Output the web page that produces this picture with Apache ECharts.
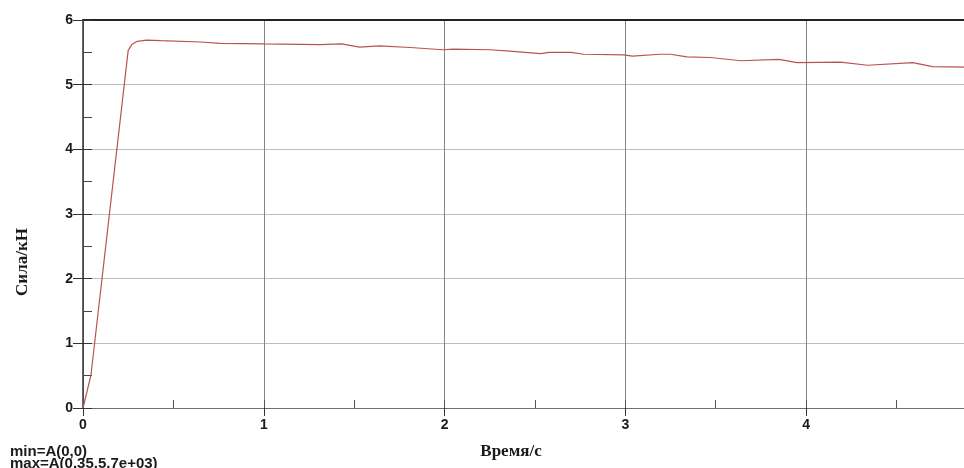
<!DOCTYPE html>
<html>
<head>
<meta charset="utf-8">
<script src="https://cdn.jsdelivr.net/npm/echarts@6/dist/echarts.min.js"></script>
<style>
  html, body { margin: 0; padding: 0; background: #fff; }
  #chart { width: 964px; height: 468px; }
</style>
</head>
<body>
<div id="chart"></div>
<script>
// время, с
var timeValues = [0, 0.044, 0.25, 0.27, 0.30, 0.35, 0.43, 0.65, 0.76, 1.00, 1.31, 1.43, 1.53, 1.64, 1.81, 1.99,
  2.05, 2.25, 2.36, 2.53, 2.58, 2.70, 2.77, 2.99, 3.04, 3.19, 3.25, 3.34, 3.47, 3.64, 3.85, 3.95, 4.19,
  4.34, 4.59, 4.70, 4.88];
// сила, кН
var forceValues = [0, 0.51, 5.53, 5.62, 5.67, 5.69, 5.68, 5.66, 5.64, 5.63, 5.62, 5.63, 5.58, 5.60, 5.575, 5.54,
  5.55, 5.54, 5.52, 5.48, 5.50, 5.50, 5.47, 5.46, 5.44, 5.47, 5.47, 5.43, 5.42, 5.37, 5.39, 5.34, 5.35,
  5.30, 5.34, 5.28, 5.27];
var statLines = ['min=A(0,0)', 'max=A(0.35,5.7e+03)'];
var xName = 'Время/с';
var yName = 'Сила/кН';

var points = timeValues.map(function (t, i) { return [t, forceValues[i]]; });

var labelFont = { color: '#1a1a1a', fontSize: 14, fontWeight: 'bold', fontFamily: 'Liberation Sans, Arial' };
var nameFont = { color: '#1a1a1a', fontSize: 17, fontWeight: 'bold', fontFamily: 'Liberation Serif, Times New Roman' };

var myChart = echarts.init(document.getElementById('chart'));
myChart.setOption({
  animation: false,
  grid: { left: 83, top: 20, right: -3, bottom: 60, containLabel: false, outerBoundsMode: 'none' },
  xAxis: [
    {
      type: 'value', min: 0, max: 4.89, interval: 1, position: 'bottom',
      name: xName, nameLocation: 'middle', nameGap: 35, nameTextStyle: Object.assign({ padding: [0, 28, 0, 0] }, nameFont),
      axisLine: { show: true, lineStyle: { color: '#6e6e6e', width: 1 } },
      axisTick: { show: true, inside: false, length: 8, lineStyle: { color: '#333' } },
      axisLabel: Object.assign({ margin: 10, showMaxLabel: false, formatter: function (v) { return v % 1 === 0 ? v : ''; } }, labelFont),
      splitLine: { show: true, lineStyle: { color: '#858585', width: 1 } }
    },
    {
      type: 'value', min: 0, max: 4.89, interval: 1, position: 'bottom',
      axisLine: { show: false },
      axisTick: { show: true, inside: true, length: 8, lineStyle: { color: '#555' } },
      minorTick: { show: true, splitNumber: 2, length: 8, lineStyle: { color: '#555' } },
      axisLabel: { show: false },
      splitLine: { show: false }
    },
    {
      type: 'value', min: 0, max: 4.89, position: 'top',
      axisLine: { show: true, lineStyle: { color: '#222', width: 2 } },
      axisTick: { show: false }, axisLabel: { show: false }, splitLine: { show: false }
    }
  ],
  yAxis: [
    {
      type: 'value', min: 0, max: 6, interval: 1, position: 'left',
      name: yName, nameLocation: 'middle', nameRotate: 90, nameGap: 52,
      nameTextStyle: Object.assign({ padding: [0, 96, 0, 0] }, nameFont),
      axisLine: { show: true, lineStyle: { color: '#333', width: 1.5 } },
      axisTick: { show: true, inside: false, length: 10, lineStyle: { color: '#333' } },
      axisLabel: Object.assign({ margin: 10 }, labelFont),
      splitLine: { show: true, lineStyle: { color: '#bdbdbd', width: 1 } }
    },
    {
      type: 'value', min: 0, max: 6, interval: 1, position: 'left', offset: 0,
      axisLine: { show: false },
      axisTick: { show: true, inside: true, length: 9, lineStyle: { color: '#333' } },
      minorTick: { show: true, splitNumber: 2, length: 9, lineStyle: { color: '#444' } },
      axisLabel: { show: false },
      splitLine: { show: false }
    }
  ],
  graphic: [
    {
      type: 'text', left: 10, top: 444,
      style: {
        text: statLines.join('\n'), fill: '#1a1a1a', fontSize: 15, fontWeight: 'bold',
        fontFamily: 'Liberation Sans, Arial', lineHeight: 12
      }
    }
  ],
  series: [
    {
      type: 'line', xAxisIndex: 0, yAxisIndex: 0, data: points,
      showSymbol: false, smooth: false,
      lineStyle: { color: '#b85450', width: 1.2 }
    }
  ]
});
</script>
</body>
</html>
